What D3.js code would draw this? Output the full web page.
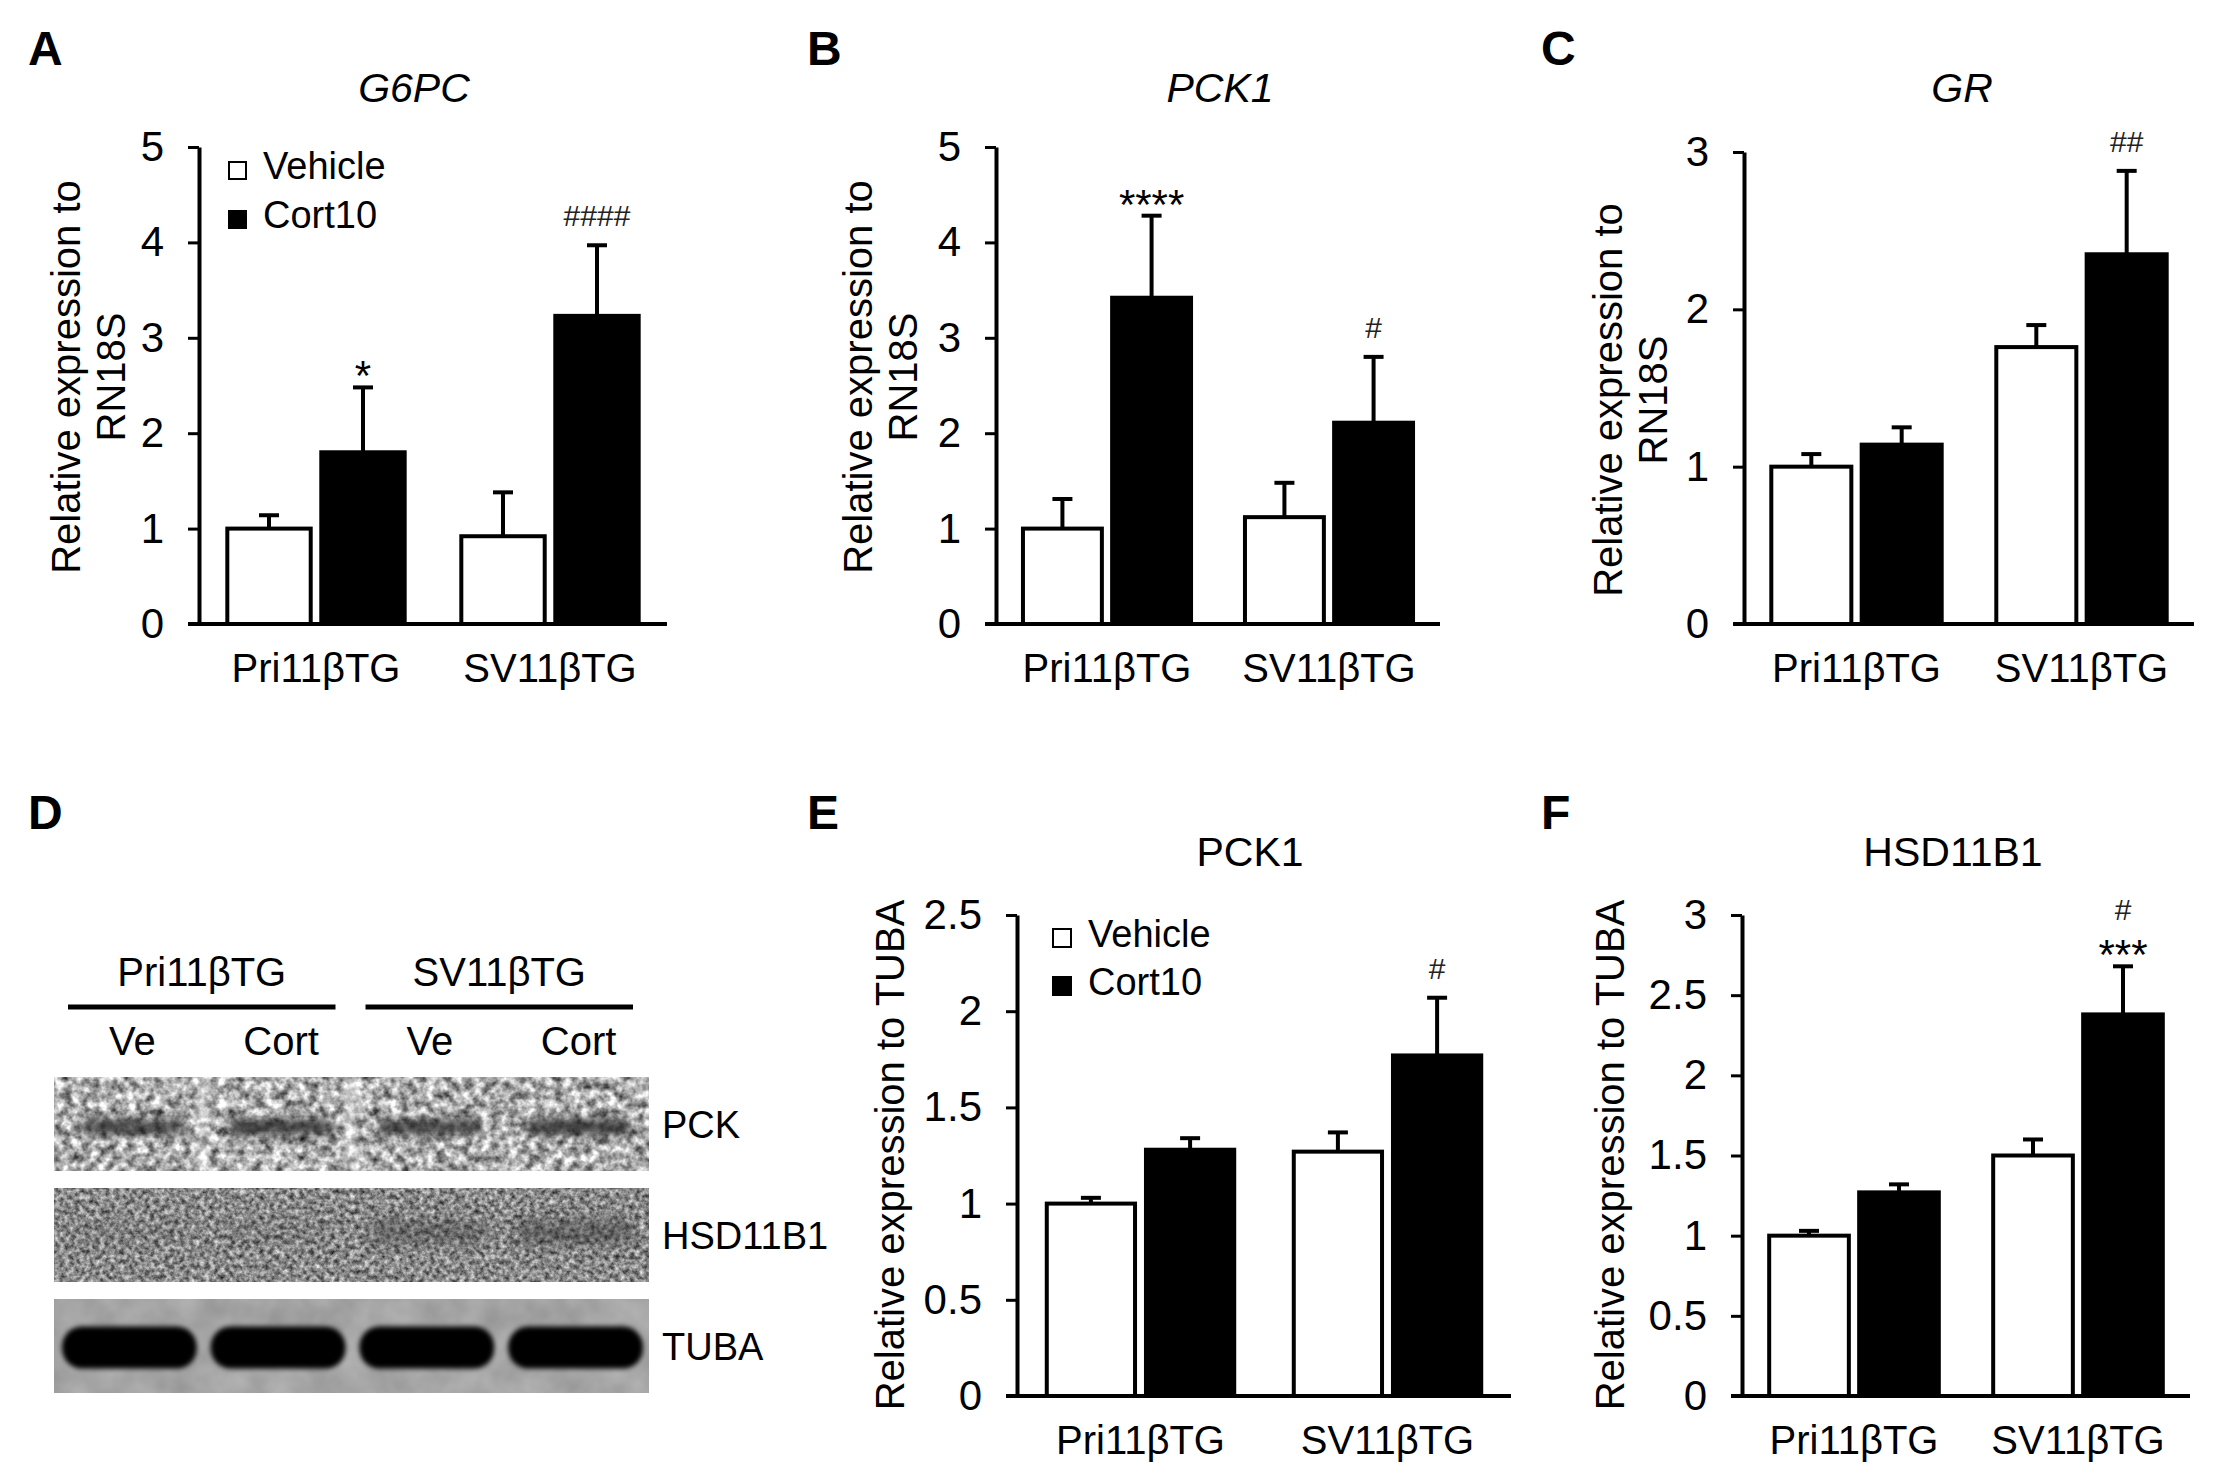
<!DOCTYPE html>
<html>
<head>
<meta charset="utf-8">
<script src="https://cdn.jsdelivr.net/npm/d3@7"></script>
<style>
  body { margin: 0; background: #fff; }
  text { font-family: "Liberation Sans", Arial, sans-serif; fill: #000; }
</style>
</head>
<body>
<script>
// ---- data ----
var groups = ["Pri11βTG", "SV11βTG"];
var seriesNames = ["Vehicle", "Cort10"];

var g6pcVehicle = [1.00, 0.92], g6pcVehicleErr = [0.14, 0.46];
var g6pcCort = [1.80, 3.23], g6pcCortErr = [0.68, 0.74];
var g6pcMarks = [["*"], ["####"]];

var pck1Vehicle = [1.00, 1.12], pck1VehicleErr = [0.31, 0.36];
var pck1Cort = [3.42, 2.11], pck1CortErr = [0.86, 0.69];
var pck1Marks = [["****"], ["#"]];

var grVehicle = [1.00, 1.76], grVehicleErr = [0.08, 0.14];
var grCort = [1.14, 2.35], grCortErr = [0.11, 0.53];
var grMarks = [[], ["##"]];

var pckProtVehicle = [1.00, 1.27], pckProtVehicleErr = [0.03, 0.10];
var pckProtCort = [1.28, 1.77], pckProtCortErr = [0.06, 0.30];
var pckProtMarks = [[], ["#"]];

var hsdVehicle = [1.00, 1.50], hsdVehicleErr = [0.03, 0.10];
var hsdCort = [1.27, 2.38], hsdCortErr = [0.05, 0.30];
var hsdMarks = [[], ["#", "***"]];

var ticksFive = [0, 1, 2, 3, 4, 5];
var ticksThree = [0, 1, 2, 3];
var ticksTwoHalf = [0, 0.5, 1, 1.5, 2, 2.5];
var ticksThreeHalf = [0, 0.5, 1, 1.5, 2, 2.5, 3];

// western blot (panel D)
var blotLanes = ["Ve", "Cort", "Ve", "Cort"];
var blotRows = ["PCK", "HSD11B1", "TUBA"];
var pckBand = [0.75, 0.80, 0.75, 0.82];
var hsdBand = [0.10, 0.12, 0.38, 0.48];
var tubaBand = [1, 1, 1, 1];

var W = 2213, H = 1480;
var svg = d3.select("body").append("svg")
  .attr("width", W).attr("height", H);

svg.append("rect").attr("width", W).attr("height", H).attr("fill", "#fff");

var defs = svg.append("defs");

function grain(id, freq, slope, intercept) {
  var f = defs.append("filter").attr("id", id)
    .attr("x", 0).attr("y", 0).attr("width", 1).attr("height", 1)
    .attr("color-interpolation-filters", "sRGB");
  f.append("feTurbulence").attr("type", "fractalNoise")
    .attr("baseFrequency", freq).attr("numOctaves", 3).attr("seed", 7);
  f.append("feColorMatrix").attr("type", "matrix")
    .attr("values", "1 0 0 0 0  1 0 0 0 0  1 0 0 0 0  0 0 0 0 1");
  var ct = f.append("feComponentTransfer");
  ["feFuncR", "feFuncG", "feFuncB"].forEach(function(c) {
    ct.append(c).attr("type", "linear").attr("slope", slope).attr("intercept", intercept);
  });
}
grain("grainPck", 0.11, 1.3, 0.03);
grain("grainHsd", 0.2, 1.0, 0.04);
grain("grainTuba", 0.03, 0.15, 0.575);

function blur(id, sd) {
  defs.append("filter").attr("id", id)
    .attr("x", "-30%").attr("y", "-80%").attr("width", "160%").attr("height", "260%")
    .append("feGaussianBlur").attr("stdDeviation", sd);
}
blur("blurSoft", 7);
blur("blurBand", 5);
blur("blurEdge", 2.5);

// ---- bar panels ----
var panels = [
  { letter: "A", lx: 28, ly: 65, title: "G6PC", italic: true, tx: 414, ty: 102,
    x0: 199, x1: 667, yBase: 624, yTop: 147, max: 5, ticks: ticksFive,
    ylab: ["Relative expression to", "RN18S"], ylabX: [80, 125], ylabY: 377,
    legend: [229, 162, 17, 49],
    veh: g6pcVehicle, vehErr: g6pcVehicleErr, cort: g6pcCort, cortErr: g6pcCortErr, marks: g6pcMarks },
  { letter: "B", lx: 807, ly: 65, title: "PCK1", italic: true, tx: 1220, ty: 102,
    x0: 996, x1: 1440, yBase: 624, yTop: 147, max: 5, ticks: ticksFive,
    ylab: ["Relative expression to", "RN18S"], ylabX: [872, 917], ylabY: 377,
    legend: null,
    veh: pck1Vehicle, vehErr: pck1VehicleErr, cort: pck1Cort, cortErr: pck1CortErr, marks: pck1Marks },
  { letter: "C", lx: 1541, ly: 65, title: "GR", italic: true, tx: 1962, ty: 102,
    x0: 1744, x1: 2194, yBase: 624, yTop: 152, max: 3, ticks: ticksThree,
    ylab: ["Relative expression to", "RN18S"], ylabX: [1622, 1667], ylabY: 400,
    legend: null,
    veh: grVehicle, vehErr: grVehicleErr, cort: grCort, cortErr: grCortErr, marks: grMarks },
  { letter: "E", lx: 807, ly: 829, title: "PCK1", italic: false, tx: 1250, ty: 866,
    x0: 1017, x1: 1511, yBase: 1396, yTop: 915, max: 2.5, ticks: ticksTwoHalf,
    ylab: ["Relative expression to TUBA"], ylabX: [904], ylabY: 1155,
    legend: [1053, 929, 18, 48],
    veh: pckProtVehicle, vehErr: pckProtVehicleErr, cort: pckProtCort, cortErr: pckProtCortErr, marks: pckProtMarks },
  { letter: "F", lx: 1541, ly: 829, title: "HSD11B1", italic: false, tx: 1953, ty: 866,
    x0: 1742, x1: 2190, yBase: 1396, yTop: 915, max: 3, ticks: ticksThreeHalf,
    ylab: ["Relative expression to TUBA"], ylabX: [1624], ylabY: 1155,
    legend: null,
    veh: hsdVehicle, vehErr: hsdVehicleErr, cort: hsdCort, cortErr: hsdCortErr, marks: hsdMarks }
];

var stroke = 4;

panels.forEach(function(p) {
  var g = svg.append("g");

  g.append("text").text(p.letter)
    .attr("x", p.lx).attr("y", p.ly)
    .attr("font-size", 48).attr("font-weight", "bold");

  g.append("text").text(p.title)
    .attr("x", p.tx).attr("y", p.ty)
    .attr("text-anchor", "middle")
    .attr("font-size", 41)
    .attr("font-style", p.italic ? "italic" : "normal");

  var y = d3.scaleLinear().domain([0, p.max]).range([p.yBase, p.yTop]);
  var x = d3.scaleBand().domain(groups).range([p.x0, p.x1]);
  var xs = d3.scaleBand().domain(seriesNames).range([0, x.bandwidth()])
    .paddingInner(0.07).paddingOuter(0.28);

  var rows = groups.map(function(gr, i) {
    return [
      { group: gr, s: "Vehicle", v: p.veh[i], e: p.vehErr[i], marks: [] },
      { group: gr, s: "Cort10", v: p.cort[i], e: p.cortErr[i], marks: p.marks[i] }
    ];
  });
  var bars = [].concat.apply([], rows);

  // bars
  g.selectAll("rect.bar").data(bars).enter().append("rect")
    .attr("class", "bar")
    .attr("x", function(d) { return x(d.group) + xs(d.s) + stroke / 2; })
    .attr("width", xs.bandwidth() - stroke)
    .attr("y", function(d) { return y(d.v); })
    .attr("height", function(d) { return y(0) - y(d.v); })
    .attr("fill", function(d) { return d.s === "Vehicle" ? "#fff" : "#000"; })
    .attr("stroke", "#000").attr("stroke-width", stroke);

  // error bars (upper only)
  var cx = function(d) { return x(d.group) + xs(d.s) + xs.bandwidth() / 2; };
  g.selectAll("line.err").data(bars).enter().append("line")
    .attr("x1", cx).attr("x2", cx)
    .attr("y1", function(d) { return y(d.v); })
    .attr("y2", function(d) { return y(d.v + d.e); })
    .attr("stroke", "#000").attr("stroke-width", stroke);
  g.selectAll("line.cap").data(bars).enter().append("line")
    .attr("x1", function(d) { return cx(d) - 10; })
    .attr("x2", function(d) { return cx(d) + 10; })
    .attr("y1", function(d) { return y(d.v + d.e); })
    .attr("y2", function(d) { return y(d.v + d.e); })
    .attr("stroke", "#000").attr("stroke-width", stroke);

  // significance marks, listed top to bottom
  bars.forEach(function(d) {
    var top = y(d.v + d.e);
    var base = null;
    d.marks.slice().reverse().forEach(function(m) {
      var isHash = m.charAt(0) === "#";
      if (base === null) base = isHash ? top - 19 : top + 3;
      else base -= 49;
      g.append("text").text(m)
        .attr("x", cx(d)).attr("y", base)
        .attr("text-anchor", "middle")
        .attr("font-family", isHash ? "'Liberation Serif', 'Times New Roman', serif" : null)
        .attr("font-size", isHash ? 30 : 42)
        .style("fill", isHash ? "#222" : "#000");
    });
  });

  // axes
  var ax = g.append("g").attr("transform", "translate(" + p.x0 + ",0)")
    .call(d3.axisLeft(y).tickValues(p.ticks).tickFormat(d3.format("~g"))
      .tickSize(11).tickSizeOuter(0).tickPadding(24));
  ax.select(".domain").attr("stroke-width", stroke);
  ax.selectAll(".tick line").attr("stroke-width", 3);
  ax.selectAll(".tick text").attr("font-size", 42)
    .attr("font-family", "'Liberation Sans', Arial, sans-serif");

  g.append("line")
    .attr("x1", p.x0 - 11).attr("x2", p.x1)
    .attr("y1", y(0)).attr("y2", y(0))
    .attr("stroke", "#000").attr("stroke-width", stroke);

  g.selectAll("text.cat").data(groups).enter().append("text")
    .attr("class", "cat").text(function(d) { return d; })
    .attr("x", function(d) { return x(d) + x.bandwidth() / 2; })
    .attr("y", p.yBase + 58)
    .attr("text-anchor", "middle").attr("font-size", 40);

  p.ylab.forEach(function(t, i) {
    g.append("text").text(t)
      .attr("transform", "translate(" + p.ylabX[i] + "," + p.ylabY + ") rotate(-90)")
      .attr("text-anchor", "middle").attr("font-size", 40);
  });

  if (p.legend) {
    var lx = p.legend[0], ly = p.legend[1], sz = p.legend[2], gap = p.legend[3];
    seriesNames.forEach(function(s, i) {
      g.append("rect")
        .attr("x", lx).attr("y", ly + i * gap)
        .attr("width", sz).attr("height", sz)
        .attr("fill", i === 0 ? "#fff" : "#000")
        .attr("stroke", "#000").attr("stroke-width", 2);
      g.append("text").text(s)
        .attr("x", lx + sz + 17).attr("y", ly + i * gap + sz)
        .attr("font-size", 38);
    });
  }
});

// ---- panel D: western blot ----
var d = svg.append("g");
d.append("text").text("D").attr("x", 28).attr("y", 829)
  .attr("font-size", 48).attr("font-weight", "bold");

var lane = d3.scaleBand().domain(d3.range(blotLanes.length)).range([54, 649]);
var rowY = d3.scaleBand().domain(blotRows).range([1077, 1393]).paddingInner(0.16);

// group headers
[[0, 1, groups[0]], [2, 3, groups[1]]].forEach(function(h) {
  var a = lane(h[0]) + 14, b = lane(h[1]) + lane.bandwidth() - 16;
  d.append("line").attr("x1", a).attr("x2", b).attr("y1", 1007).attr("y2", 1007)
    .attr("stroke", "#000").attr("stroke-width", 5);
  d.append("text").text(h[2]).attr("x", (a + b) / 2).attr("y", 986)
    .attr("text-anchor", "middle").attr("font-size", 40);
});
d.selectAll("text.lane").data(blotLanes).enter().append("text")
  .attr("class", "lane").text(function(t) { return t; })
  .attr("x", function(t, i) { return lane(i) + lane.bandwidth() / 2 + 4; })
  .attr("y", 1055).attr("text-anchor", "middle").attr("font-size", 40);

var grainIds = { "PCK": "grainPck", "HSD11B1": "grainHsd", "TUBA": "grainTuba" };
blotRows.forEach(function(r) {
  d.append("rect")
    .attr("x", 54).attr("y", rowY(r))
    .attr("width", 595).attr("height", rowY.bandwidth())
    .attr("fill", "#aaa")
    .attr("filter", "url(#" + grainIds[r] + ")");
  d.append("text").text(r)
    .attr("x", 662).attr("y", rowY(r) + rowY.bandwidth() / 2 + 14)
    .attr("font-size", 38);
});

var clip = defs.append("clipPath").attr("id", "blotClip");
blotRows.forEach(function(r) {
  clip.append("rect").attr("x", 54).attr("y", rowY(r))
    .attr("width", 595).attr("height", rowY.bandwidth());
});
var bands = d.append("g").attr("clip-path", "url(#blotClip)");

// light streaks between PCK lanes
[1, 2].forEach(function(i) {
  bands.append("rect")
    .attr("x", lane(i) - 8).attr("y", rowY("PCK"))
    .attr("width", 16).attr("height", rowY.bandwidth())
    .attr("fill", "#fff").attr("opacity", 0.3)
    .attr("filter", "url(#blurEdge)");
});

// PCK bands
bands.selectAll("rect.pck").data(pckBand).enter().append("rect")
  .attr("x", function(v, i) { return lane(i) + 26; })
  .attr("width", lane.bandwidth() - 44)
  .attr("y", rowY("PCK") + 42).attr("height", 16)
  .attr("rx", 8)
  .attr("fill", "#222")
  .attr("opacity", function(v) { return v; })
  .attr("filter", "url(#blurBand)");

// HSD11B1 bands
bands.selectAll("rect.hsd").data(hsdBand).enter().append("rect")
  .attr("x", function(v, i) { return lane(i) + 14; })
  .attr("width", lane.bandwidth() - 28)
  .attr("y", rowY("HSD11B1") + 32).attr("height", 24)
  .attr("rx", 12)
  .attr("fill", "#333")
  .attr("opacity", function(v) { return v; })
  .attr("filter", "url(#blurSoft)");

// TUBA bands
bands.selectAll("rect.tuba").data(tubaBand).enter().append("rect")
  .attr("x", function(v, i) { return lane(i) + 8; })
  .attr("width", lane.bandwidth() - 14)
  .attr("y", rowY("TUBA") + 27).attr("height", 42)
  .attr("rx", 20)
  .attr("fill", "#050505")
  .attr("opacity", function(v) { return v; })
  .attr("filter", "url(#blurEdge)");
</script>
</body>
</html>
